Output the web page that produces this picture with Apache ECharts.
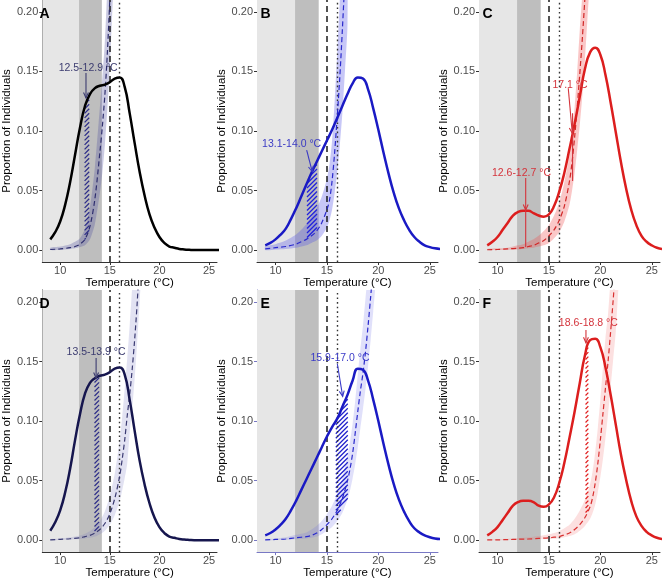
<!DOCTYPE html>
<html><head><meta charset="utf-8">
<script src="https://cdn.jsdelivr.net/npm/echarts@6/dist/echarts.min.js"></script>
<style>html,body{margin:0;padding:0;background:#fff}#c{width:662px;height:580px}</style>
</head><body><div id="c"></div>
<script>
// ---------- data ----------
const temps = [9,9.5,10,10.5,11,11.5,12,12.5,13,13.5,14,14.5,15,15.5,16,16.5,17,17.5,18,18.5,19,19.5,20,20.5,21,21.5,22,22.5,23,23.5,24,24.5,25,25.5,26];
const densA = [.009,.015,.024,.038,.057,.080,.103,.121,.131,.136,.138,.139,.141,.144,.145,.137,.115,.090,.066,.046,.030,.019,.011,.006,.003,.002,.001,.0005,.0002,0,0,0,0,0,0];
const densB = [.004,.006,.009,.013,.018,.026,.035,.045,.055,.065,.074,.083,.092,.101,.111,.121,.131,.140,.145,.144,.135,.119,.101,.082,.064,.048,.035,.025,.017,.011,.007,.004,.0025,.0015,.001];
const densC = [.004,.007,.011,.017,.023,.029,.032,.033,.033,.031,.029,.028,.030,.037,.049,.065,.085,.106,.129,.152,.166,.170,.164,.147,.124,.099,.074,.052,.034,.021,.012,.007,.004,.002,.001];
const densD = [.008,.015,.025,.040,.060,.084,.106,.123,.132,.136,.138,.139,.141,.144,.145,.139,.118,.092,.067,.047,.031,.019,.011,.006,.003,.002,.001,.0005,.0002,0,0,0,0,0,0];
const densE = [.004,.006,.009,.013,.018,.025,.033,.042,.051,.060,.069,.078,.087,.095,.102,.112,.122,.134,.144,.143,.134,.118,.100,.081,.063,.047,.034,.024,.016,.010,.0065,.004,.0025,.0015,.001];
const densF = [.004,.007,.011,.017,.023,.029,.032,.033,.033,.032,.029,.028,.030,.036,.048,.065,.086,.108,.132,.155,.168,.169,.162,.145,.122,.097,.072,.051,.033,.020,.012,.007,.004,.002,.001];

const tpcX_A   = [9,10,11,11.5,12,12.5,13,13.5,14,14.25,14.5,14.75,15,15.25,15.5];
const tpcMid_A = [.0005,.001,.002,.003,.005,.009,.020,.043,.082,.104,.130,.165,.210,.260,.320];
const tpcLo_A  = [0,.0003,.001,.0015,.0025,.004,.009,.022,.048,.065,.088,.118,.155,.200,.250];
const tpcHi_A  = [.002,.003,.005,.007,.010,.018,.036,.070,.120,.145,.175,.220,.270,.330,.400];

const tpcX_B   = [9,10,11,12,12.5,13,13.5,14,14.5,15,15.25,15.5,15.75,16,16.25,16.5,16.75,17];
const tpcMid_B = [.001,.002,.003,.005,.007,.009,.012,.016,.023,.034,.042,.058,.082,.112,.145,.185,.230,.290];
const tpcLo_B  = [0,.0005,.001,.002,.003,.004,.006,.008,.012,.019,.025,.034,.048,.066,.088,.115,.150,.190];
const tpcHi_B  = [.003,.005,.008,.013,.017,.022,.028,.035,.045,.060,.072,.092,.125,.165,.210,.260,.320,.390];

const tpcX_C   = [9,10,11,12,12.5,13,13.5,14,14.5,15,15.5,16,16.5,17,17.25,17.5,17.75,18,18.25,18.5,18.75,19];
const tpcMid_C = [.0003,.0005,.001,.0015,.002,.003,.004,.006,.008,.012,.017,.025,.037,.058,.074,.095,.120,.148,.178,.212,.250,.300];
const tpcLo_C  = [0,0,.0003,.0006,.001,.0015,.002,.003,.004,.006,.010,.015,.024,.038,.050,.065,.084,.105,.130,.160,.195,.235];
const tpcHi_C  = [.001,.0015,.002,.004,.005,.007,.009,.012,.016,.021,.029,.040,.057,.080,.098,.120,.150,.185,.215,.250,.300,.360];

const tpcX_D   = [9,10,11,12,12.5,13,13.5,14,14.5,15,15.5,16,16.25,16.5,16.75,17,17.25,17.5,17.75,18,18.25];
const tpcMid_D = [.0003,.0007,.0012,.002,.003,.004,.006,.009,.014,.022,.035,.054,.068,.084,.104,.122,.143,.168,.198,.235,.280];
const tpcLo_D  = [0,.0002,.0005,.001,.0015,.002,.003,.005,.008,.013,.021,.033,.042,.052,.064,.090,.110,.135,.165,.200,.240];
const tpcHi_D  = [.001,.0015,.0025,.004,.0055,.0075,.011,.016,.024,.037,.056,.084,.104,.127,.152,.180,.212,.250,.290,.340,.400];

const tpcX_E   = [9,10,11,12,13,13.5,14,14.5,15,15.5,16,16.5,17,17.25,17.5,17.75,18,18.25,18.5,18.75,19,19.25,19.5,19.75];
const tpcMid_E = [.0003,.0006,.001,.002,.003,.004,.006,.009,.013,.018,.025,.035,.050,.060,.073,.090,.108,.125,.140,.158,.180,.204,.230,.260];
const tpcLo_E  = [0,.0002,.0004,.0008,.0014,.002,.003,.005,.008,.011,.016,.023,.034,.042,.052,.064,.078,.094,.110,.127,.146,.168,.192,.220];
const tpcHi_E  = [.001,.0015,.0025,.0045,.0065,.009,.012,.016,.022,.029,.039,.052,.071,.083,.098,.117,.139,.160,.180,.203,.228,.255,.285,.320];

const tpcX_F   = [9,10,11,12,13,14,15,15.5,16,16.5,17,17.5,18,18.5,19,19.25,19.5,19.75,20,20.25,20.5,20.75,21,21.25,21.5,21.75,22];
const tpcMid_F = [.0002,.0003,.0005,.0008,.001,.0015,.002,.0025,.003,.0045,.006,.009,.013,.019,.028,.036,.048,.064,.084,.106,.128,.150,.175,.202,.232,.265,.300];
const tpcLo_F  = [0,0,.0002,.0003,.0005,.0008,.001,.0013,.0017,.0025,.0035,.005,.008,.012,.018,.023,.030,.040,.053,.068,.086,.106,.128,.152,.175,.210,.230];
const tpcHi_F  = [.0005,.0008,.0012,.0018,.0025,.0035,.005,.006,.0075,.010,.013,.018,.025,.034,.047,.058,.074,.094,.118,.145,.170,.190,.220,.250,.285,.320,.360];

// hatched windows
const hatchX_A = [12.5,12.7,12.9],  hatchTop_A = [.121,.127,.130], hatchBot_A = [.009,.012,.016];
const hatchX_B = [13.1,13.5,14.0],  hatchTop_B = [.058,.065,.074], hatchBot_B = [.010,.012,.016];
const hatchX_C = [],                hatchTop_C = [],               hatchBot_C = [];
const hatchX_D = [13.5,13.7,13.9],  hatchTop_D = [.136,.137,.137], hatchBot_D = [.006,.007,.008];
const hatchX_E = [15.9,16.45,17.0], hatchTop_E = [.100,.111,.121], hatchBot_E = [.020,.027,.035];
const hatchX_F = [18.6,18.8],       hatchTop_F = [.160,.166],      hatchBot_F = [.020,.024];

// annotations (text, anchor in data units)
const labelTxt_A = ['12.5-12.9 °C'];            const labelXY_A = [[12.82,.153]];
const labelTxt_B = ['13.1-14.0 °C'];            const labelXY_B = [[11.57,.0888]];
const labelTxt_C = ['17.1 °C','12.6-12.7 °C'];  const labelXY_C = [[17.05,.1386],[12.33,.0647]];
const labelTxt_D = ['13.5-13.9 °C'];            const labelXY_D = [[13.62,.1576]];
const labelTxt_E = ['15.9-17.0 °C'];            const labelXY_E = [[16.27,.1529]];
const labelTxt_F = ['18.6-18.8 °C'];            const labelXY_F = [[18.83,.1821]];
// arrows [x1,y1,x2,y2]
const arrows_A = [[12.6,.1487,12.6,.1277]];
const arrows_B = [[13.03,.084,13.57,.0658]];
const arrows_C = [[16.88,.1359,17.27,.0981],[12.74,.0605,12.74,.0337]];
const arrows_D = [[13.62,.1529,13.62,.1361]];
const arrows_E = [[16.01,.1481,16.53,.1207]];
const arrows_F = [[18.6,.1765,18.6,.1657]];
// plain segments [x1,y1,x2,y2]
const segs_C = [[12.74,.0337,12.74,.0025],[17.3,.115,17.3,.058]];

const xMin = 8.2, xMax = 25.8, yMin = -0.01, yMax = 0.21;
const xTicks = [10,15,20,25];
const yTicks = [0,0.05,0.10,0.15,0.20];
const coolBand = [xMin, 11.9], warmBand = [11.9, 14.2];
const vDash = 15, vDot = 16;

// ---------- panel styling ----------
const panels = [
 {id:'A', dens:densA, tx:tpcX_A, mid:tpcMid_A, lo:tpcLo_A, hi:tpcHi_A, hx:hatchX_A, ht:hatchTop_A, hb:hatchBot_A, lt:labelTxt_A, lxy:labelXY_A, ar:arrows_A, sg:[],
  solid:'#000000', dash:'#2e2e6e', rib:'rgba(80,80,160,0.30)', hatch:'#30308a', text:'#3c3c70', axis:'#333333'},
 {id:'B', dens:densB, tx:tpcX_B, mid:tpcMid_B, lo:tpcLo_B, hi:tpcHi_B, hx:hatchX_B, ht:hatchTop_B, hb:hatchBot_B, lt:labelTxt_B, lxy:labelXY_B, ar:arrows_B, sg:[],
  solid:'#1a1ac4', dash:'#2a2acc', rib:'rgba(80,80,230,0.32)', hatch:'#2222dd', text:'#3a3ac4', axis:'#333333'},
 {id:'C', dens:densC, tx:tpcX_C, mid:tpcMid_C, lo:tpcLo_C, hi:tpcHi_C, hx:hatchX_C, ht:hatchTop_C, hb:hatchBot_C, lt:labelTxt_C, lxy:labelXY_C, ar:arrows_C, sg:segs_C,
  solid:'#dc1e1e', dash:'#d02828', rib:'rgba(240,80,80,0.32)', hatch:'#e02020', text:'#d4343c', axis:'#333333'},
 {id:'D', dens:densD, tx:tpcX_D, mid:tpcMid_D, lo:tpcLo_D, hi:tpcHi_D, hx:hatchX_D, ht:hatchTop_D, hb:hatchBot_D, lt:labelTxt_D, lxy:labelXY_D, ar:arrows_D, sg:[],
  solid:'#16164e', dash:'#3a3a72', rib:'rgba(110,110,190,0.20)', hatch:'#30308a', text:'#3c3c70', axis:'#333333'},
 {id:'E', dens:densE, tx:tpcX_E, mid:tpcMid_E, lo:tpcLo_E, hi:tpcHi_E, hx:hatchX_E, ht:hatchTop_E, hb:hatchBot_E, lt:labelTxt_E, lxy:labelXY_E, ar:arrows_E, sg:[],
  solid:'#1a1ac4', dash:'#2a2acc', rib:'rgba(100,100,230,0.20)', hatch:'#2222cc', text:'#3a3ac8', axis:'#7878c4'},
 {id:'F', dens:densF, tx:tpcX_F, mid:tpcMid_F, lo:tpcLo_F, hi:tpcHi_F, hx:hatchX_F, ht:hatchTop_F, hb:hatchBot_F, lt:labelTxt_F, lxy:labelXY_F, ar:arrows_F, sg:[],
  solid:'#dc1e1e', dash:'#d83030', rib:'rgba(240,100,100,0.20)', hatch:'#e02020', text:'#d4343c', axis:'#333333'}
];
const gridPos = [[36,0,262],[257,0,262],[479,0,262],[36,290,263],[257,290,263],[479,290,263]];
const GW = 181;
const FONT = '"Liberation Sans", Arial, Helvetica, sans-serif';
const zip = (xs, ys) => xs.map((x,i)=>[x, ys[i]]);

// band between an upper and a lower series, drawn through the axis scales
function bandSeries(i, xs, lower, upper, fill, z, smooth){
  return {type:'custom', xAxisIndex:i, yAxisIndex:i, z:z, clip:true, silent:true, animation:false,
    data:[[xs[0], lower[0]]],
    renderItem:(params, api)=>{
      const up = xs.map((x,k)=>api.coord([x, upper[k]]));
      const dn = xs.map((x,k)=>api.coord([x, lower[k]])).reverse();
      return {type:'polygon', shape:{points:up.concat(dn), smooth:smooth}, style:{fill:fill}};
    }};
}
// diagonal hatching between an upper and a lower boundary
function hatchSeries(i, xs, lower, upper, color, z){
  return {type:'custom', xAxisIndex:i, yAxisIndex:i, z:z, clip:true, silent:true, animation:false,
    data:[[xs[0], lower[0]]],
    renderItem:(params, api)=>{
      const T = xs.map((x,k)=>api.coord([x, upper[k]]));
      const B = xs.map((x,k)=>api.coord([x, lower[k]]));
      const at = (P, x) => {
        for (let k = 0; k < P.length-1; k++) {
          if (x <= P[k+1][0] + 1e-9) { const t = (x-P[k][0])/(P[k+1][0]-P[k][0]); return P[k][1] + t*(P[k+1][1]-P[k][1]); }
        }
        return P[P.length-1][1];
      };
      const x0 = T[0][0], x1 = T[T.length-1][0];
      const top = Math.min(...T.map(p=>p[1])), bot = Math.max(...B.map(p=>p[1]));
      const s = 4.5, step = 0.2, segs = [];
      const push = r => segs.push([r[0]-0.4, r[1]+0.4, r[2]+0.4, r[3]-0.4]);
      for (let c = Math.floor((top + x0)/s)*s; c <= bot + x1 + s; c += s) {
        let run = null;
        for (let x = x0; x <= x1 + 1e-6; x += step) {
          const y = c - x;
          if (y >= at(T, x) && y <= at(B, x)) { if (!run) run = [x, y, x, y]; else { run[2] = x; run[3] = y; } }
          else if (run) { push(run); run = null; }
        }
        if (run) push(run);
      }
      let d = '';
      segs.forEach(g => { d += 'M' + g[0].toFixed(2) + ' ' + g[1].toFixed(2) + 'L' + g[2].toFixed(2) + ' ' + g[3].toFixed(2); });
      return {type:'path', shape:{pathData:d}, style:{stroke:color, fill:'none', lineWidth:1.3, opacity:1}};
    }};
}

const grid = [], xAxis = [], yAxis = [], series = [], title = [];
panels.forEach((p, i) => {
  const [gl, gt, gh] = gridPos[i];
  grid.push({left: gl, top: gt, width: GW, height: gh, containLabel: false});
  title.push({text: p.id, left: gl + 3.5, top: gt + 7, padding: 0,
    textStyle:{fontSize: 14, fontWeight:'bold', color:'#000', fontFamily: FONT}});
  xAxis.push({gridIndex:i, type:'value', min:xMin, max:xMax,
    axisLine:{show:true, onZero:false, lineStyle:{color:p.axis, width:1}},
    axisTick:{show:true, length:3, customValues:xTicks, lineStyle:{color:p.axis}},
    axisLabel:{customValues:xTicks, color:'#4d4d4d', fontSize:11, margin:3, fontFamily:FONT},
    splitLine:{show:false},
    name:'Temperature (°C)', nameLocation:'middle', nameGap:14,
    nameTextStyle:{color:'#000', fontSize:11.5, fontFamily:FONT}});
  yAxis.push({gridIndex:i, type:'value', min:yMin, max:yMax,
    axisLine:{show:true, onZero:false, lineStyle:{color:p.axis, width:1}},
    axisTick:{show:true, length:3, customValues:yTicks, lineStyle:{color:p.axis}},
    axisLabel:{customValues:yTicks, formatter:v=>v.toFixed(2), color:'#4d4d4d', fontSize:11, margin:4, fontFamily:FONT},
    splitLine:{show:false},
    name:'Proportion of Individuals', nameLocation:'middle', nameGap:23,
    nameTextStyle:{color:'#000', fontSize:11.5, fontFamily:FONT}});

  const base = {xAxisIndex:i, yAxisIndex:i, silent:true, animation:false};
  // background bands
  series.push(Object.assign({}, base, {type:'line', z:0, data:[[xMin, yMin]], symbol:'none', lineStyle:{opacity:0},
    markArea:{silent:true, data:[
      [{xAxis:coolBand[0], itemStyle:{color:'#e6e6e6'}}, {xAxis:coolBand[1]}],
      [{xAxis:warmBand[0], itemStyle:{color:'#bebebe'}}, {xAxis:warmBand[1]}]
    ]}}));
  // ribbon
  series.push(bandSeries(i, p.tx, p.lo, p.hi, p.rib, 2, 0.25));
  // vertical reference lines
  series.push(Object.assign({}, base, {type:'line', z:3, data:[[xMin, yMin]], symbol:'none', lineStyle:{opacity:0},
    markLine:{silent:true, symbol:['none','none'], label:{show:false}, animation:false, data:[
      {xAxis:vDash, lineStyle:{color:'#1a1a1a', width:1.5, type:[6,4]}},
      {xAxis:vDot, lineStyle:{color:'#333', width:1.4, type:[1.6,3]}}
    ]}}));
  // hatched window
  if (p.hx.length) series.push(hatchSeries(i, p.hx, p.hb, p.ht, p.hatch, 4));
  // dashed model curve
  series.push(Object.assign({}, base, {type:'line', z:5, data:zip(p.tx, p.mid), symbol:'none', smooth:0.3,
    lineStyle:{color:p.dash, width:1.2, type:[5,3]}}));
  // density curve
  series.push(Object.assign({}, base, {type:'line', z:6, data:zip(temps, p.dens), symbol:'none', smooth:true,
    lineStyle:{color:p.solid, width:2.5}}));
  // segments + arrows
  const segData = p.sg.map(s=>s.concat([0])).concat(p.ar.map(a=>a.concat([1])));
  series.push(Object.assign({}, base, {type:'custom', z:7, clip:false, data:segData,
    renderItem:(params, api)=>{
      const a = api.coord([api.value(0), api.value(1)]);
      const b = api.coord([api.value(2), api.value(3)]);
      const kids = [{type:'line', shape:{x1:a[0],y1:a[1],x2:b[0],y2:b[1]}, style:{stroke:p.text, lineWidth:1.1}}];
      if (api.value(4) === 1) {
        const ang = Math.atan2(b[1]-a[1], b[0]-a[0]), L = 6, w = 0.42;
        kids.push({type:'polyline', shape:{points:[
          [b[0]-L*Math.cos(ang-w), b[1]-L*Math.sin(ang-w)], [b[0], b[1]],
          [b[0]-L*Math.cos(ang+w), b[1]-L*Math.sin(ang+w)]]}, style:{stroke:p.text, fill:null, lineWidth:1.1}});
      }
      return {type:'group', children:kids};
    }}));
  // labels
  series.push(Object.assign({}, base, {type:'custom', z:8, clip:false, data:p.lxy.map((xy,k)=>[xy[0], xy[1], k]),
    renderItem:(params, api)=>{
      const c = api.coord([api.value(0), api.value(1)]);
      return {type:'text', x:c[0], y:c[1], style:{text:p.lt[api.value(2)], fill:p.text, font:'10.5px ' + FONT, align:'center', verticalAlign:'middle'}};
    }}));
});

const chart = echarts.init(document.getElementById('c'), null, {renderer:'canvas'});
chart.setOption({animation:false, backgroundColor:'#fff', title, grid, xAxis, yAxis, series});
</script></body></html>
